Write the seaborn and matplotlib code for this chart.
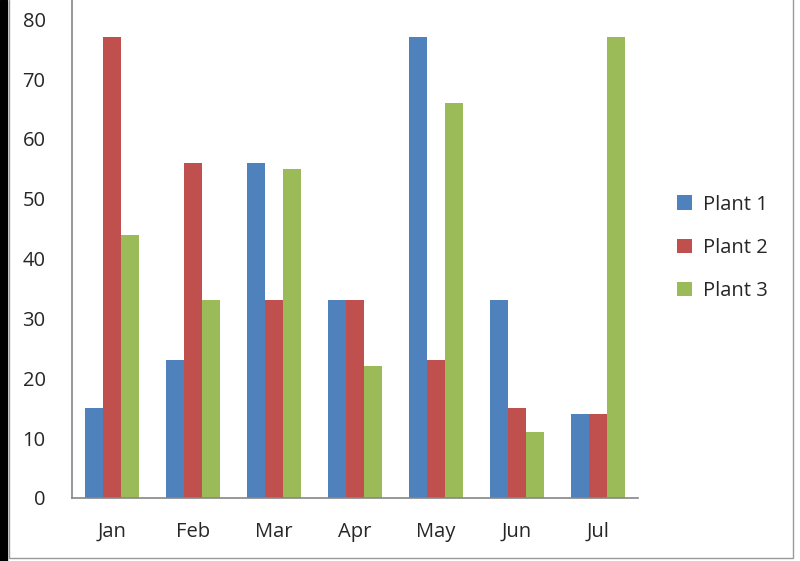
import numpy as np
import pandas as pd
import matplotlib
matplotlib.use("Agg")
import matplotlib.pyplot as plt
import seaborn as sns

months = ["Jan", "Feb", "Mar", "Apr", "May", "Jun", "Jul"]
plant1 = [15, 23, 56, 33, 77, 33, 14]
plant2 = [77, 56, 33, 33, 23, 15, 14]
plant3 = [44, 33, 55, 22, 66, 11, 77]
series_names = ["Plant 1", "Plant 2", "Plant 3"]
colors = ["#4F81BD", "#C0504D", "#9BBB59"]

df = pd.DataFrame({
    "Month": months * 3,
    "Value": plant1 + plant2 + plant3,
    "Plant": [s for s in series_names for _ in months],
})

sns.set_style("white")
plt.rcParams["font.family"] = ["Open Sans", "DejaVu Sans"]

fig = plt.figure(figsize=(8, 5.61), dpi=100)
ax = fig.add_axes([0.09, 0.1123, 0.7075, 0.8877])

sns.barplot(data=df, x="Month", y="Value", hue="Plant", palette=colors,
            width=0.667, gap=0, saturation=1, linewidth=0, ax=ax, legend=True)

grey = "#868686"
ax.set_ylim(0, 83.2)
ax.set_yticks(range(0, 81, 10))
ax.set_xlim(-0.5, 6.5)
ax.set_xlabel("")
ax.set_ylabel("")
for s in ["top", "right"]:
    ax.spines[s].set_visible(False)
for s in ["left", "bottom"]:
    ax.spines[s].set_color(grey)
    ax.spines[s].set_linewidth(1.2)

# x tick marks at category boundaries, labels at centres
ax.set_xticks(np.arange(-0.5, 7, 1), minor=True)
ax.tick_params(axis="x", which="minor", length=6, width=1.2, color=grey, direction="out")
ax.tick_params(axis="x", which="major", length=0, pad=17, labelsize=14.5, labelcolor="#262626")
ax.tick_params(axis="y", length=5, width=1.2, color=grey, direction="out",
               pad=14, labelsize=14.5, labelcolor="#262626")

handles, labels = ax.get_legend_handles_labels()
ax.legend_.remove()
fig.legend(handles, labels, loc="center left", bbox_to_anchor=(0.823, 0.558),
           frameon=False, fontsize=14.5, handlelength=0.75, handleheight=0.75,
           handletextpad=0.55, labelspacing=1.15, labelcolor="#262626")

# screenshot-like frame
fig.patches.append(matplotlib.patches.Rectangle((0, 0), 0.009, 1, transform=fig.transFigure,
                                                color="black", zorder=10))
fig.patches.append(matplotlib.patches.Rectangle((0.011, 0.006), 0.98, 1.1, transform=fig.transFigure,
                                                fill=False, edgecolor="#9a9a9a", lw=1, zorder=10))

fig.savefig("out.png", dpi=100)
